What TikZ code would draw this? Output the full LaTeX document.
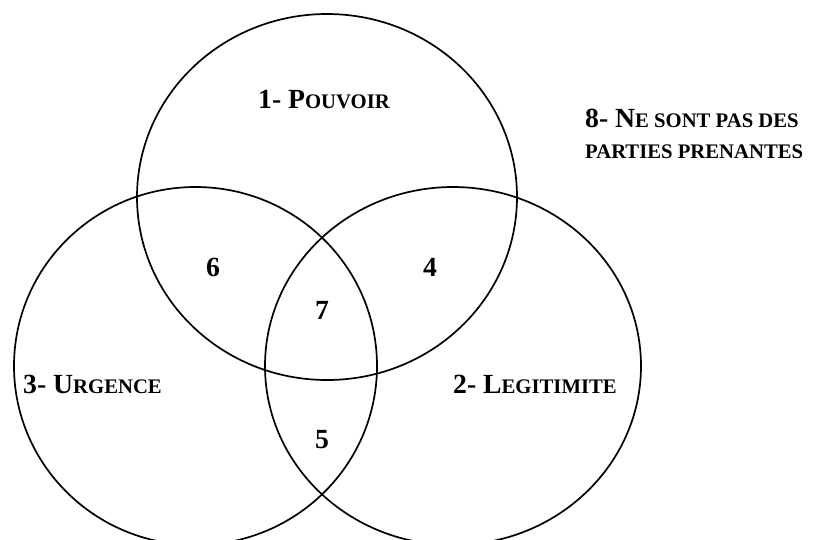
\documentclass[tikz,border=0pt]{standalone}
\usepackage{fontspec}
\setmainfont{Liberation Serif}
\newcommand{\bigf}{\fontsize{27.7}{30}\selectfont\bfseries}
\newcommand{\sm}[1]{{\fontsize{20.7}{22}\selectfont #1}}
\begin{document}
\begin{tikzpicture}[x=1pt,y=-1pt,
  ring/.style={draw=black,line width=1.7pt},
  lbl/.style={anchor=base west,inner sep=0pt,font=\bigf}]
\useasboundingbox (0,0) rectangle (816,539);
\draw[ring] (327,197) ellipse [x radius=190pt, y radius=183pt];
\draw[ring] (195.5,366) ellipse [x radius=181.5pt, y radius=179pt];
\draw[ring] (453,366) ellipse [x radius=188pt, y radius=179pt];
\node[lbl] (t1) at (258,108) {1- P\sm{OUVOIR}};
\node[lbl] (t8a) at (585,127) {8- N\sm{E SONT PAS DES}};
\node[lbl] (t8b) at (585,158) {\sm{PARTIES PRENANTES}};
\node[lbl] (t3) at (23,393) {3- U\sm{RGENCE}};
\node[lbl] (t2) at (453,393) {2- L\sm{EGITIMITE}};
\node[lbl] (n6) at (206,276) {6};
\node[lbl] (n4) at (423,276) {4};
\node[lbl] (n7) at (315,319) {7};
\node[lbl] (n5) at (315,448) {5};
\end{tikzpicture}
\end{document}
